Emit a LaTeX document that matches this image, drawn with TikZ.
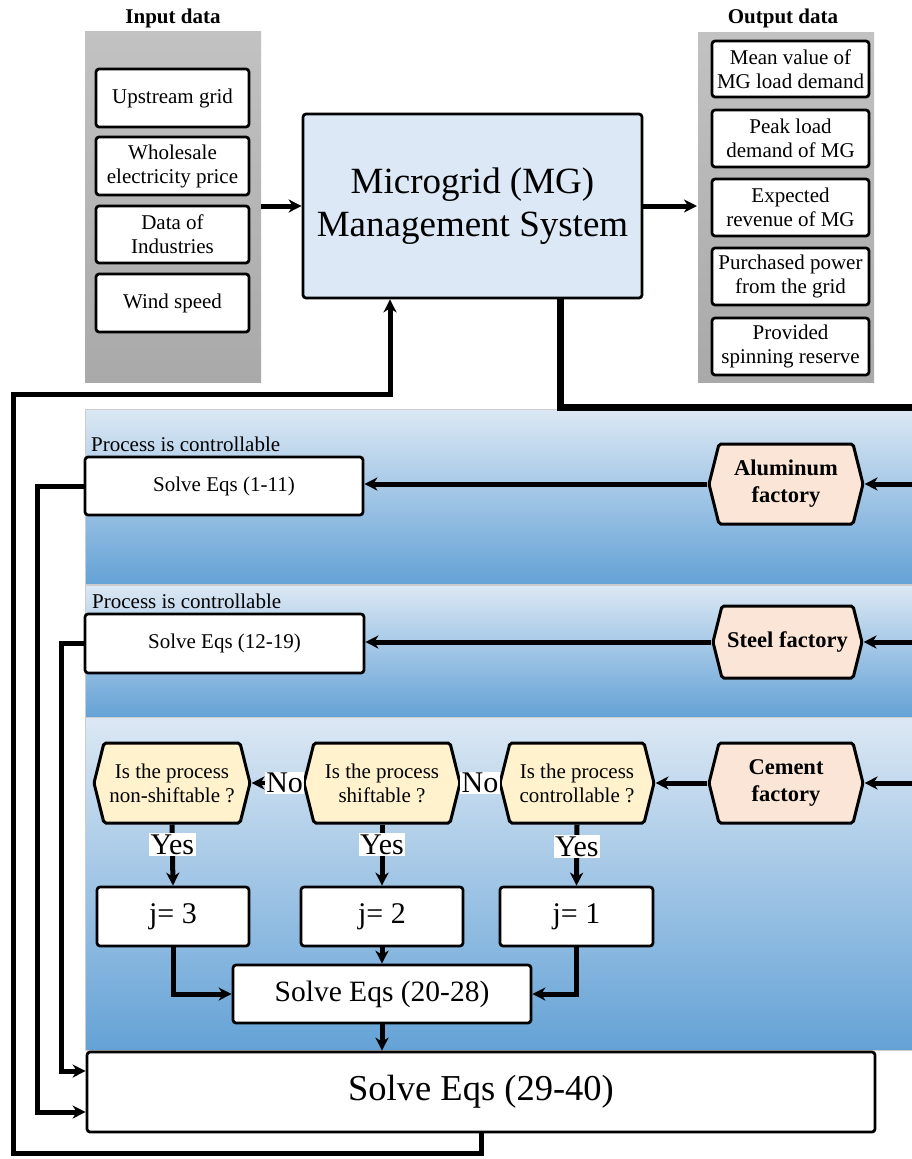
\documentclass[tikz,border=0pt]{standalone}
\usepackage{fontspec}
\setmainfont{Liberation Serif}
\usetikzlibrary{arrows.meta,shapes.symbols}
\definecolor{panTop}{HTML}{DCE8F4}
\definecolor{panBot}{HTML}{64A2D6}
\definecolor{mgFill}{HTML}{DCE8F5}
\definecolor{facFill}{HTML}{FBE5D6}
\definecolor{askFill}{HTML}{FFF2CC}
\definecolor{grayTop}{HTML}{C2C2C2}
\definecolor{grayBot}{HTML}{A9A9A9}

\begin{document}
\begin{tikzpicture}[x=1pt,y=1pt]
    \tikzstyle{every node}+=[inner sep=0pt]
    \tikzstyle{databox}=[draw, line width=2.7, rounded corners=3, fill=white, align=center, font=\fontsize{21}{24}\selectfont]
    \tikzstyle{hexa}=[draw, line width=3, rounded corners=2, signal, signal to=west and east, signal pointer angle=152, align=center, font=\fontsize{21}{24}\selectfont]
    \tikzstyle{title}=[font=\bfseries\fontsize{21}{24}\selectfont]
    \tikzstyle{conn}=[line width=5, -{Stealth[length=13pt,width=13pt,inset=4pt]}]
    \tikzstyle{answer}=[fill=white, inner sep=1.5, font=\fontsize{30}{33}\selectfont]
    \useasboundingbox (0,0) rectangle (911,-1159);
    % background panels
    \shade [top color=grayTop, bottom color=grayBot] (85,-31) rectangle (261,-382);
    \shade [top color=grayTop, bottom color=grayBot] (698,-32) rectangle (874,-382);
    \shade [top color=panTop, bottom color=panBot, draw=gray!40, line width=0.8] (85,-409) rectangle (913,-584);
    \shade [top color=panTop, bottom color=panBot, draw=gray!40, line width=0.8] (85,-585) rectangle (913,-717);
    \shade [top color=panTop, bottom color=panBot, draw=gray!40, line width=0.8] (85,-717) rectangle (913,-1050);
    % input data
    \node [title] (intitle) at (173,-18) {Input data};
    \node [databox, minimum width=153, minimum height=58] (grid) at (172.5,-98) {Upstream grid};
    \node [databox, minimum width=153, minimum height=58] (price) at (172.5,-166) {Wholesale\\electricity price};
    \node [databox, minimum width=153, minimum height=57] (indus) at (172.5,-234.5) {Data of\\Industries};
    \node [databox, minimum width=153, minimum height=58] (wind) at (172.5,-303) {Wind speed};
    \coordinate (inpanel) at (261,-206);
    % management system
    \node [draw, line width=2.7, rounded corners=3, fill=mgFill, minimum width=339, minimum height=184, align=center, font=\fontsize{37}{43}\selectfont] (mg) at (472.5,-206) {Microgrid (MG)\\Management System};
    % output data
    \node [title] (outtitle) at (783,-18) {Output data};
    \node [databox, minimum width=157, minimum height=56] (mean) at (790.5,-69) {Mean value of\\MG load demand};
    \node [databox, minimum width=157, minimum height=57] (peak) at (790.5,-138.5) {Peak load\\demand of MG};
    \node [databox, minimum width=157, minimum height=57] (revenue) at (790.5,-207.5) {Expected\\revenue of MG};
    \node [databox, minimum width=157, minimum height=57] (purchased) at (790.5,-276.5) {Purchased power\\from the grid};
    \node [databox, minimum width=157, minimum height=57] (reserve) at (790.5,-346.5) {Provided\\spinning reserve};
    \coordinate (outpanel) at (697,-206);
    % aluminum and steel
    \node [anchor=base west, font=\fontsize{21}{24}\selectfont] (ctrlA) at (91,-451) {Process is controllable};
    \node [anchor=base west, font=\fontsize{21}{24}\selectfont] (ctrlS) at (92,-608) {Process is controllable};
    \node [databox, minimum width=278, minimum height=58] (solveA) at (224,-486) {Solve Eqs (1-11)};
    \node [databox, minimum width=279, minimum height=59] (solveS) at (224.5,-643.5) {Solve Eqs (12-19)};
    \node [hexa, fill=facFill, minimum width=154, minimum height=80, font=\bfseries\fontsize{22.5}{27}\selectfont] (alu) at (786,-484) {Aluminum\\factory};
    \node [hexa, fill=facFill, minimum width=149, minimum height=72, font=\bfseries\fontsize{22.5}{27}\selectfont] (steel) at (787.5,-642) {Steel factory};
    % cement
    \node [hexa, fill=facFill, minimum width=154, minimum height=80, font=\bfseries\fontsize{22.5}{27}\selectfont] (cement) at (786,-783) {Cement\\factory};
    \node [hexa, fill=askFill, minimum width=154, minimum height=80] (askC) at (577,-783) {Is the process\\controllable ?};
    \node [hexa, fill=askFill, minimum width=156, minimum height=80] (askS) at (382,-783) {Is the process\\shiftable ?};
    \node [hexa, fill=askFill, minimum width=156, minimum height=80] (askN) at (172,-783) {Is the process\\non-shiftable ?};
    \node [databox, minimum width=152, minimum height=59, font=\fontsize{30}{34}\selectfont] (j3) at (173,-916.5) {j= 3};
    \node [databox, minimum width=162, minimum height=59, font=\fontsize{30}{34}\selectfont] (j2) at (382,-916.5) {j= 2};
    \node [databox, minimum width=153, minimum height=59, font=\fontsize{30}{34}\selectfont] (j1) at (576.5,-916.5) {j= 1};
    \node [databox, minimum width=298, minimum height=58, font=\fontsize{29.5}{33}\selectfont] (solveC) at (382,-994) {Solve Eqs (20-28)};
    \node [databox, minimum width=788, minimum height=80, font=\fontsize{36.5}{40}\selectfont] (final) at (481,-1092) {Solve Eqs (29-40)};
    % bus from the right edge
    \coordinate (busA) at (913,-484);
    \coordinate (busS) at (913,-642);
    \coordinate (busC) at (913,-783);
    \coordinate (busTop) at (913,-407);
    % connectors
    \draw [conn] (inpanel) -- (mg.west);
    \draw [conn] (mg.east) -- (outpanel);
    \draw [line width=7] ([xshift=87.5]mg.south) |- (busTop);
    \draw [conn] (busA) -- (alu.east);
    \draw [conn] (busS) -- (steel.east);
    \draw [conn] (busC) -- (cement.east);
    \draw [conn] (alu.west) -- (alu.west -| solveA.east);
    \draw [conn] (steel.west) -- (steel.west -| solveS.east);
    \draw [conn] (cement.west) -- (askC.east);
    \draw [conn, line width=4] (askC.west) -- (askS.east) node [answer, pos=0.5] {No};
    \draw [conn, line width=4] (askS.west) -- (askN.east) node [answer, pos=0.35] {No};
    \draw [conn] (askN.south) -- (j3.north) node [answer, pos=0.33] {Yes};
    \draw [conn] (askS.south) -- (j2.north) node [answer, pos=0.33] {Yes};
    \draw [conn] (askC.south) -- (j1.north) node [answer, pos=0.36] {Yes};
    \draw [conn] (j3.south) |- (solveC.west);
    \draw [conn] (j2.south) -- (solveC.north);
    \draw [conn] (j1.south) |- (solveC.east);
    \draw [conn] (solveC.south) -- (solveC.south |- final.north);
    \draw [conn] (solveA.west) -- ++(-46,0) |- ([yshift=-20]final.west);
    \draw [conn] (solveS.west) -- ++(-22,0) |- ([yshift=21]final.west);
    \draw [conn] (final.south) -- ++(0,-20) -| (13,-394) -| ([xshift=-82.5]mg.south);
\end{tikzpicture}
\end{document}
